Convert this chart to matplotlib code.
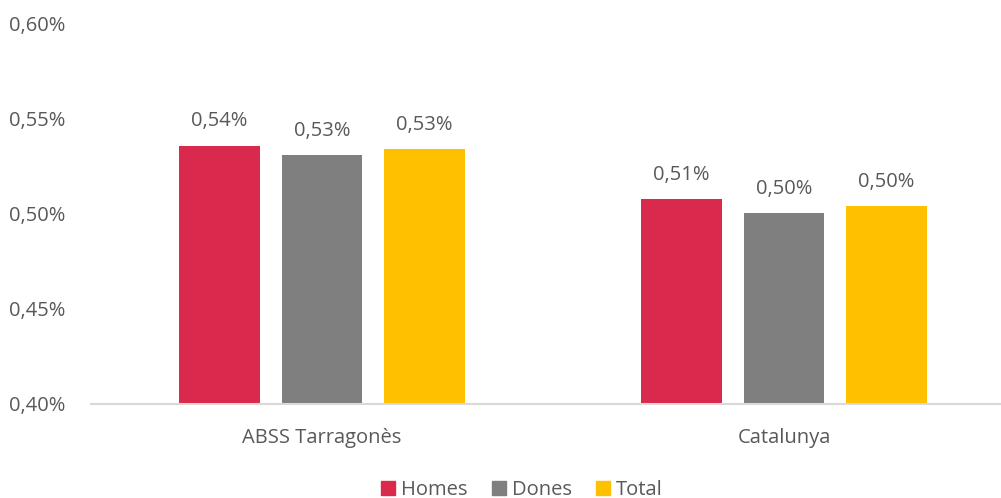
import numpy as np
import matplotlib.pyplot as plt
from matplotlib.patches import Patch

plt.rcParams['font.family'] = ['Open Sans', 'DejaVu Sans']

areas = ["ABSS Tarragonès", "Catalunya"]
series = ["Homes", "Dones", "Total"]
homes = [0.536, 0.508]
dones = [0.531, 0.5005]
total = [0.534, 0.504]
colors = ["#D9294C", "#7F7F7F", "#FFC000"]
yticks = [0.40, 0.45, 0.50, 0.55, 0.60]

txt = "#595959"
fs = 14.5
fig = plt.figure(figsize=(10.01, 4.98), dpi=100)
ax = fig.add_axes([91/1001, 1-404/498, 924/1001, (404-24)/498])

x = np.arange(len(areas))
width = 0.175
step = 0.222
for i, (name, vals) in enumerate(zip(series, [homes, dones, total])):
    xs = x + (i-1)*step
    ax.bar(xs, [v-0.40 for v in vals], width, bottom=0.40, color=colors[i], label=name)
    for xx, v in zip(xs, vals):
        ax.text(xx, v + 0.0075, ("%.2f%%" % v).replace(".", ","), ha="center", va="bottom",
                fontsize=fs, color=txt)

ax.set_xlim(-0.5, 1.5)
ax.set_ylim(0.40, 0.60)
ax.set_yticks(yticks)
ax.set_yticklabels([("%.2f%%" % t).replace(".", ",") for t in yticks], fontsize=fs, color=txt)
for lab in ax.get_yticklabels():
    lab.set_horizontalalignment("left")
ax.tick_params(axis="y", length=0, pad=59)
ax.set_xticks(x)
ax.set_xticklabels(areas, fontsize=fs, color=txt)
ax.tick_params(axis="x", length=0, pad=17)
for s in ["top", "right", "left"]:
    ax.spines[s].set_visible(False)
ax.spines["bottom"].set_color("#D9D9D9")
ax.spines["bottom"].set_linewidth(1.5)

handles = [Patch(color=c, label=n) for c, n in zip(colors, series)]
fig.legend(handles=handles, loc="center", bbox_to_anchor=(522/1001, 1-490/498), ncol=3,
           frameon=False, fontsize=fs, handlelength=0.7, handleheight=0.7,
           handletextpad=0.3, columnspacing=1.2, labelcolor=txt)

fig.savefig("out.png", dpi=100)
